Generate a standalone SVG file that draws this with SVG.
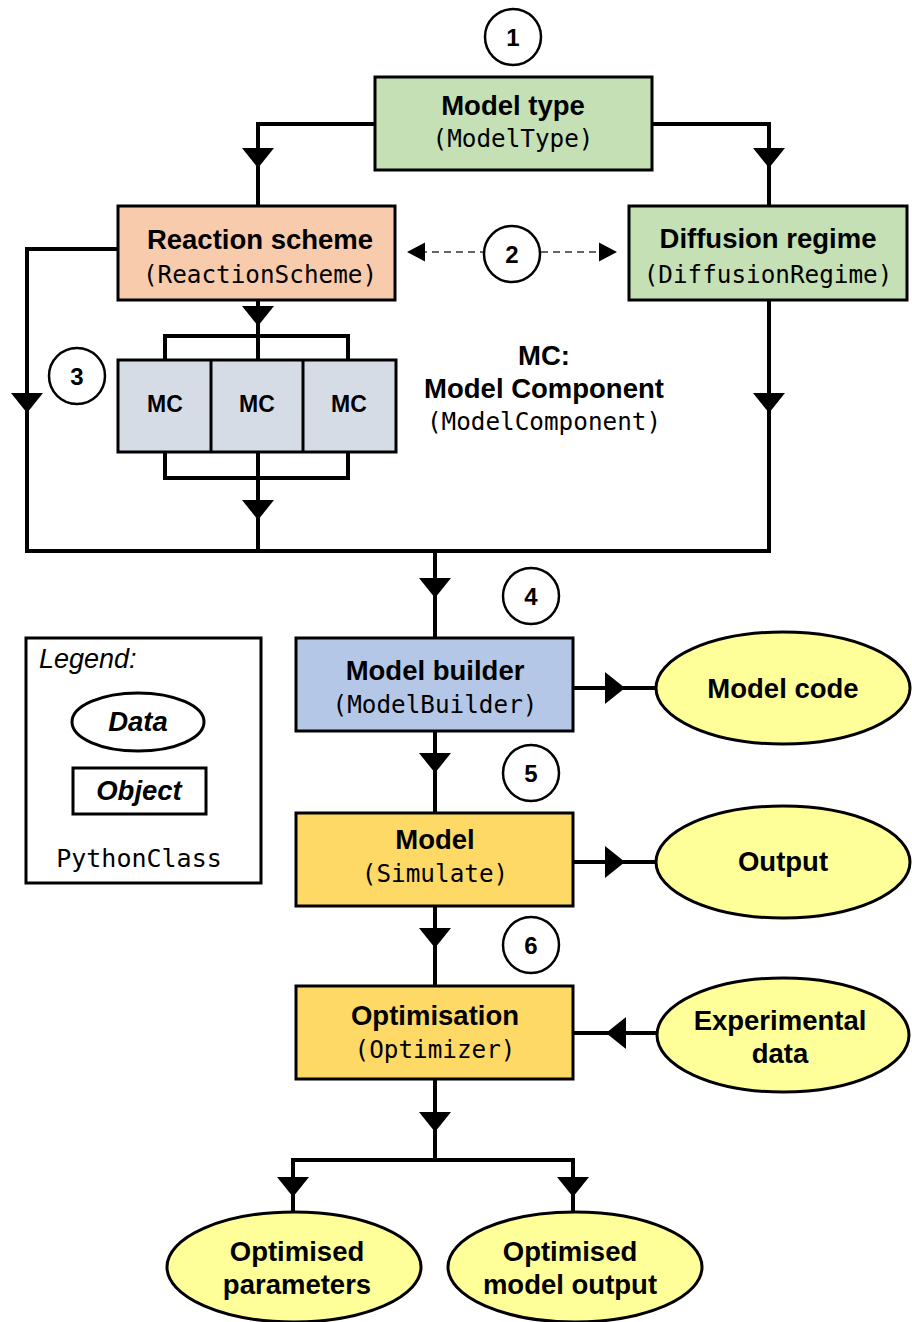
<svg xmlns="http://www.w3.org/2000/svg" xmlns:xlink="http://www.w3.org/1999/xlink" width="912" height="1322" viewBox="0 0 912 1322">
  <style>
    .box { stroke: #000; stroke-width: 3; }
    .data { fill: #ffff99; stroke: #000; stroke-width: 3; }
    .line { fill: none; stroke: #000; stroke-width: 4; stroke-linejoin: miter; stroke-linecap: square; }
    .dash { fill: none; stroke: #333; stroke-width: 1.6; stroke-dasharray: 7 5; }
    .step { fill: #fff; stroke: #000; stroke-width: 2.5; }
    .title { font-family: "Liberation Sans", Arial, sans-serif; font-weight: bold; font-size: 27.5px; text-anchor: middle; fill: #000; }
    .cls { font-family: "DejaVu Sans Mono", monospace; font-size: 24.3px; text-anchor: middle; fill: #000; }
    .num { font-family: "Liberation Sans", Arial, sans-serif; font-weight: bold; font-size: 24px; text-anchor: middle; fill: #000; }
    .mc { font-family: "Liberation Sans", Arial, sans-serif; font-weight: bold; font-size: 23px; text-anchor: middle; fill: #000; }
  </style>
  <defs>
    <!-- filled triangle, tip at origin, pointing down -->
    <path id="headDown" d="M-16,-20 L16,-20 L0,0 Z" fill="#000"/>
    <!-- filled triangle, tip at origin, pointing right -->
    <path id="headRight" d="M-20,-16 L-20,16 L0,0 Z" fill="#000"/>
    <!-- filled triangle, tip at origin, pointing left -->
    <path id="headLeft" d="M20,-16 L20,16 L0,0 Z" fill="#000"/>
    <!-- small heads for the dashed link -->
    <path id="smallLeft" d="M18,-9.5 L18,9.5 L0,0 Z" fill="#000"/>
    <path id="smallRight" d="M-18,-9.5 L-18,9.5 L0,0 Z" fill="#000"/>
  </defs>

  <rect width="912" height="1322" fill="#fff"/>

  <!-- connectors -->
  <g id="connectors">
    <path class="line" d="M375,124 H258 V206"/>
    <use xlink:href="#headDown" x="258" y="168"/>
    <path class="line" d="M652,124 H769 V206"/>
    <use xlink:href="#headDown" x="769" y="168"/>

    <path class="line" d="M118,249 H27 V551"/>
    <use xlink:href="#headDown" x="27" y="413"/>

    <path class="line" d="M258,300 V360"/>
    <use xlink:href="#headDown" x="258" y="326"/>
    <path class="line" d="M165,360 V336 H348 V360"/>
    <path class="line" d="M165,452 V478 H348 V452"/>
    <path class="line" d="M258,452 V551"/>
    <use xlink:href="#headDown" x="258" y="520"/>

    <path class="line" d="M769,300 V551"/>
    <use xlink:href="#headDown" x="769" y="413"/>

    <path class="line" d="M27,551 H769"/>
    <path class="line" d="M435,551 V638"/>
    <use xlink:href="#headDown" x="435" y="598"/>

    <path class="line" d="M573,688 H656"/>
    <use xlink:href="#headRight" x="625" y="688"/>

    <path class="line" d="M435,731 V813"/>
    <use xlink:href="#headDown" x="435" y="773"/>

    <path class="line" d="M573,862 H656"/>
    <use xlink:href="#headRight" x="625" y="862"/>

    <path class="line" d="M435,906 V986"/>
    <use xlink:href="#headDown" x="435" y="948"/>

    <path class="line" d="M657,1033 H573"/>
    <use xlink:href="#headLeft" x="606" y="1033"/>

    <path class="line" d="M435,1079 V1160"/>
    <use xlink:href="#headDown" x="435" y="1132"/>
    <path class="line" d="M293,1212 V1160 H573 V1212"/>
    <use xlink:href="#headDown" x="293" y="1197"/>
    <use xlink:href="#headDown" x="573" y="1197"/>

    <path class="dash" d="M420,252 H484"/>
    <use xlink:href="#smallLeft" x="407" y="252"/>
    <path class="dash" d="M541,252 H604"/>
    <use xlink:href="#smallRight" x="617" y="252"/>
  </g>

  <!-- step markers -->
  <g id="step1"><circle class="step" cx="513" cy="37" r="28"/><text class="num" x="513" y="46">1</text></g>
  <g id="step2"><circle class="step" cx="512" cy="254" r="28"/><text class="num" x="512" y="263">2</text></g>
  <g id="step3"><circle class="step" cx="77" cy="376" r="28"/><text class="num" x="77" y="385">3</text></g>
  <g id="step4"><circle class="step" cx="531" cy="596" r="28"/><text class="num" x="531" y="605">4</text></g>
  <g id="step5"><circle class="step" cx="531" cy="773" r="28"/><text class="num" x="531" y="782">5</text></g>
  <g id="step6"><circle class="step" cx="531" cy="945" r="28"/><text class="num" x="531" y="954">6</text></g>

  <g id="model-type">
    <rect class="box" x="375" y="77" width="277" height="93" fill="#c5e0b4"/>
    <text class="title" x="513" y="115">Model type</text>
    <text class="cls" x="513" y="147">(ModelType)</text>
  </g>

  <g id="reaction-scheme">
    <rect class="box" x="118" y="206" width="277" height="94" fill="#f8cbad"/>
    <text class="title" x="260" y="249">Reaction scheme</text>
    <text class="cls" x="260" y="283">(ReactionScheme)</text>
  </g>

  <g id="diffusion-regime">
    <rect class="box" x="629" y="206" width="278" height="94" fill="#c5e0b4"/>
    <text class="title" x="768" y="248">Diffusion regime</text>
    <text class="cls" x="768" y="283">(DiffusionRegime)</text>
  </g>

  <g id="model-components">
    <rect class="box" x="118" y="360" width="278" height="92" fill="#d6dce5"/>
    <line x1="211" y1="360" x2="211" y2="452" stroke="#000" stroke-width="3"/>
    <line x1="303" y1="360" x2="303" y2="452" stroke="#000" stroke-width="3"/>
    <text class="mc" x="165" y="412">MC</text>
    <text class="mc" x="257" y="412">MC</text>
    <text class="mc" x="349" y="412">MC</text>
  </g>

  <g id="mc-note">
    <text class="title" x="544" y="365">MC:</text>
    <text class="title" x="544" y="398">Model Component</text>
    <text class="cls" x="544" y="430">(ModelComponent)</text>
  </g>

  <g id="legend">
    <rect x="26" y="638" width="235" height="245" fill="#fff" stroke="#000" stroke-width="3"/>
    <text x="39" y="668" font-family="Liberation Sans, Arial, sans-serif" font-style="italic" font-size="27px">Legend:</text>
    <ellipse cx="138" cy="722" rx="66" ry="29" fill="#fff" stroke="#000" stroke-width="3"/>
    <text x="138" y="731" class="title" font-style="italic">Data</text>
    <rect x="73" y="768" width="133" height="46" fill="#fff" stroke="#000" stroke-width="3"/>
    <text x="139" y="800" class="title" font-style="italic">Object</text>
    <text x="139" y="867" font-family="DejaVu Sans Mono, monospace" font-size="25px" text-anchor="middle">PythonClass</text>
  </g>

  <g id="model-builder">
    <rect class="box" x="296" y="638" width="277" height="93" fill="#b4c7e7"/>
    <text class="title" x="435" y="680">Model builder</text>
    <text class="cls" x="435" y="713">(ModelBuilder)</text>
  </g>

  <g id="model-code">
    <ellipse class="data" cx="783" cy="688" rx="127" ry="56"/>
    <text class="title" x="783" y="698">Model code</text>
  </g>

  <g id="model-simulate">
    <rect class="box" x="296" y="813" width="277" height="93" fill="#ffd966"/>
    <text class="title" x="435" y="849">Model</text>
    <text class="cls" x="435" y="882">(Simulate)</text>
  </g>

  <g id="output">
    <ellipse class="data" cx="783" cy="862" rx="127" ry="56"/>
    <text class="title" x="783" y="871">Output</text>
  </g>

  <g id="optimisation">
    <rect class="box" x="296" y="986" width="277" height="93" fill="#ffd966"/>
    <text class="title" x="435" y="1025">Optimisation</text>
    <text class="cls" x="435" y="1058">(Optimizer)</text>
  </g>

  <g id="experimental-data">
    <ellipse class="data" cx="783" cy="1035" rx="126" ry="57"/>
    <text class="title" x="780" y="1030">Experimental</text>
    <text class="title" x="780" y="1063">data</text>
  </g>

  <g id="optimised-parameters">
    <ellipse class="data" cx="294" cy="1267" rx="127" ry="55"/>
    <text class="title" x="297" y="1261">Optimised</text>
    <text class="title" x="297" y="1294">parameters</text>
  </g>

  <g id="optimised-output">
    <ellipse class="data" cx="575" cy="1267" rx="127" ry="55"/>
    <text class="title" x="570" y="1261">Optimised</text>
    <text class="title" x="570" y="1294">model output</text>
  </g>
</svg>
